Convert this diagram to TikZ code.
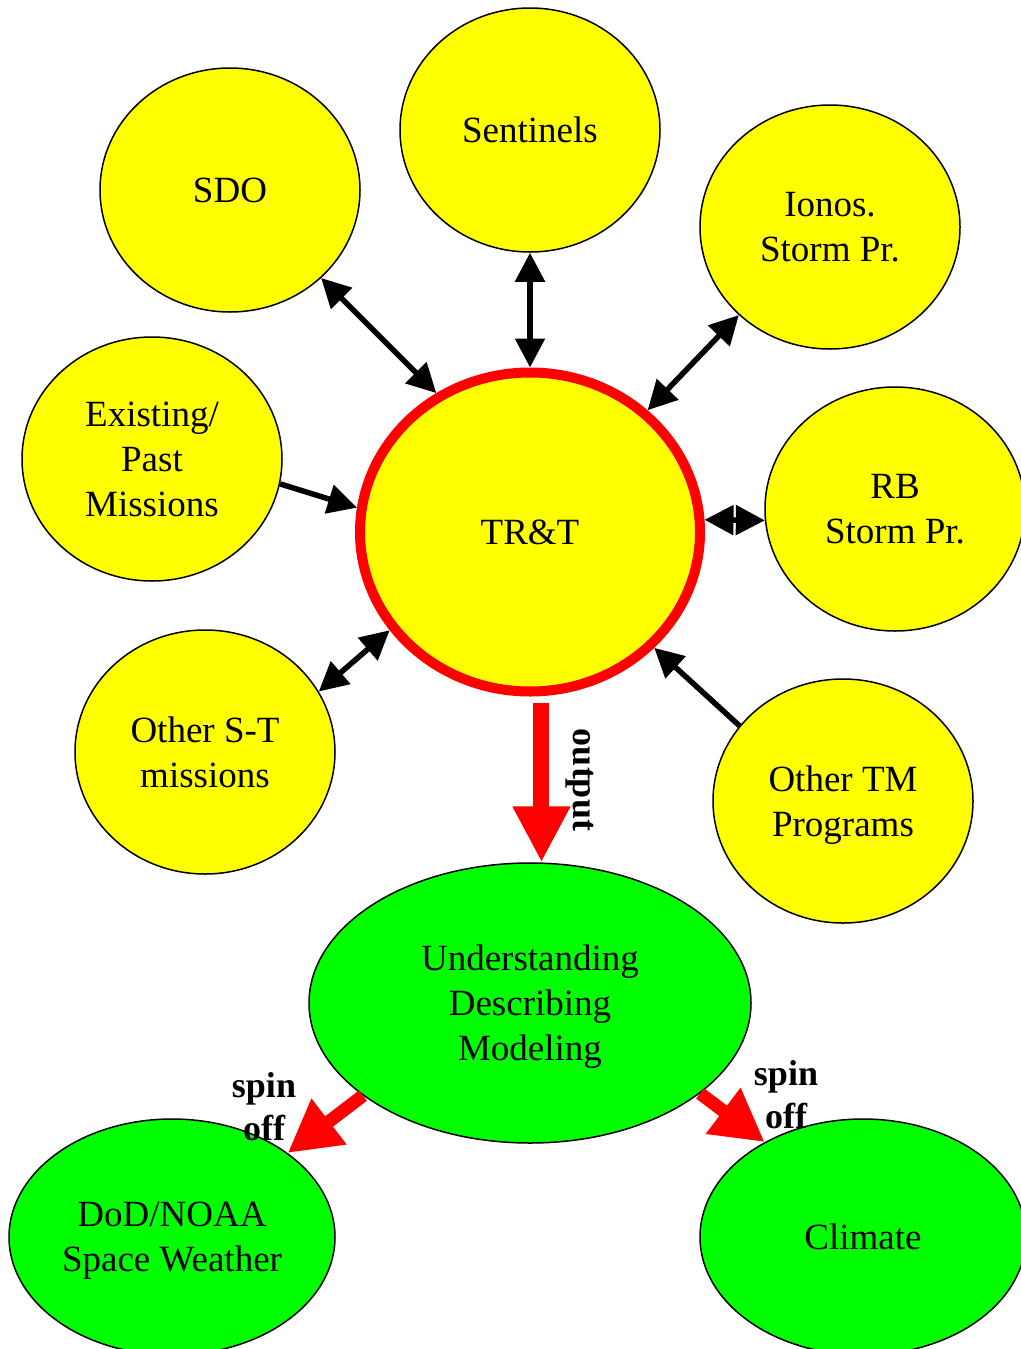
\documentclass[tikz,border=0pt]{standalone}
\usepackage{fontspec}
\setmainfont{Liberation Serif}
\usetikzlibrary{shapes.geometric,arrows.meta,calc}
\definecolor{yel}{RGB}{255,255,0}
\definecolor{grn}{RGB}{0,255,0}
\definecolor{rd}{RGB}{255,0,0}
\begin{document}
\begin{tikzpicture}[x=1pt,y=-1pt,
  bubble/.style={ellipse,draw=black,line width=1.5pt,fill=yel,minimum width=260pt,minimum height=244pt,inner sep=0pt,align=center,text depth=0pt,font=\fontsize{37}{45}\selectfont},
  gbubble/.style={bubble,fill=grn},
  link/.style={line width=5.5pt,{Triangle[length=29pt,width=29pt]}-{Triangle[length=29pt,width=29pt]}},
  feed/.style={line width=5.5pt,-{Triangle[length=29pt,width=29pt]}},
  redarrow/.style={draw=rd,line width=13pt,-{Triangle[length=52pt,width=54pt]}},
  tag/.style={font=\fontsize{36}{43}\selectfont\bfseries,align=center,inner sep=0pt}]
\useasboundingbox (0,0) rectangle (1020,1349);
\node[bubble] (sdo) at (230,190) {SDO};
\node[bubble] (sent) at (530,130) {Sentinels};
\node[bubble] (ion) at (830,227) {Ionos.\\Storm Pr.};
\node[bubble] (ex) at (152,459) {Existing/\\Past\\Missions};
\node[bubble,draw=rd,line width=10pt,minimum width=340pt,minimum height=319pt] (trt) at (530,532) {TR\&T};
\node[bubble] (rb) at (895,509) {RB\\Storm Pr.};
\node[bubble] (ost) at (205,752) {Other S-T\\missions};
\node[bubble] (otm) at (843,801) {Other TM\\Programs};
\node[gbubble,minimum width=442pt,minimum height=280pt] (und) at (530,1003) {Understanding\\Describing\\Modeling};
\node[gbubble,minimum width=326pt,minimum height=236pt] (dod) at (172,1237) {DoD/NOAA\\Space Weather};
\node[gbubble,minimum width=326pt,minimum height=236pt] (cli) at (863,1237) {Climate};
\draw[link] (sdo.-44) -- (trt.124);
\draw[link] (sent.south) -- (trt.north);
\draw[link] (ion.224) -- (trt.46);
\draw[feed] (ex.-11) -- (trt.172);
\draw[link] (trt.4) -- (rb.185);
\draw[link] (ost.28) -- (trt.215);
\draw[feed] (otm.144) -- (trt.-43);
\draw[redarrow,line width=16pt,-{Triangle[length=56pt,width=54pt]},shorten <=7pt] (trt.-86) -- (und.north -| trt.-86);
\draw[redarrow] (und.209) -- (dod.36);
\draw[redarrow] (und.-28) -- (cli.136);
\node[tag,rotate=-90] (outlbl) at (580,780) {output};
\node[tag] (spinl) at (264,1107) {spin\\off};
\node[tag] (spinr) at (786,1095) {spin\\off};
\end{tikzpicture}
\end{document}
